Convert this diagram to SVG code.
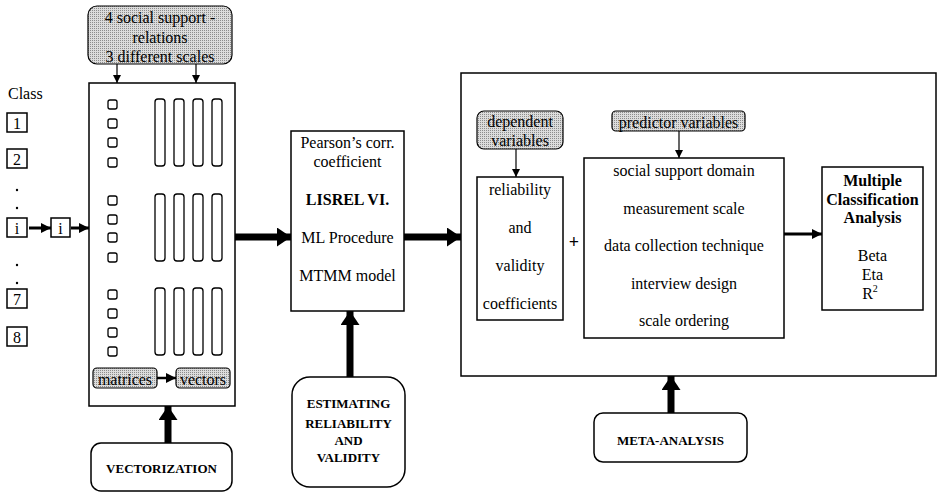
<svg xmlns="http://www.w3.org/2000/svg" width="937" height="493" viewBox="0 0 937 493">
  <defs>
    <!-- halftone-like grey fill for the label boxes -->
    <pattern id="halftone" width="2" height="2" patternUnits="userSpaceOnUse">
      <rect width="2" height="2" fill="#dcdcdc"/>
      <rect width="1" height="1" fill="#8c8c8c"/>
    </pattern>
    <marker id="headThin" markerUnits="userSpaceOnUse" markerWidth="8" markerHeight="8" viewBox="0 0 8 8" refX="8" refY="4" orient="auto">
      <path d="M0,0 L8,4 L0,8 Z" fill="#000"/>
    </marker>
    <marker id="headMed" markerUnits="userSpaceOnUse" markerWidth="10" markerHeight="10" viewBox="0 0 10 10" refX="10" refY="5" orient="auto">
      <path d="M0,0 L10,5 L0,10 Z" fill="#000"/>
    </marker>
    <marker id="headThick" markerUnits="userSpaceOnUse" markerWidth="14" markerHeight="19" viewBox="0 0 14 19" refX="14" refY="9.5" orient="auto">
      <path d="M0,0 L14,9.5 L0,19 Z" fill="#000"/>
    </marker>
  </defs>
  <style>
    text { font-family: "Liberation Serif", "Times New Roman", serif; font-size: 16px; fill: #000; }
    .c { text-anchor: middle; }
    .b { font-weight: bold; }
    .cap { font-size: 13px; font-weight: bold; text-anchor: middle; }
    .box { fill: #fff; stroke: #000; stroke-width: 1.5; }
    .grey { fill: url(#halftone); stroke: #000; stroke-width: 1.2; }
    .cell { fill: #fff; stroke: #000; stroke-width: 1.3; }
    .thin { stroke: #000; stroke-width: 1.2; fill: none; marker-end: url(#headThin); }
    .med { stroke: #000; stroke-width: 3; fill: none; marker-end: url(#headMed); }
    .thick { stroke: #000; stroke-width: 7; fill: none; marker-end: url(#headThick); }
  </style>
  <rect width="937" height="493" fill="#fff"/>

  <!-- class column -->
  <g id="classes">
    <text x="8" y="99">Class</text>
    <rect class="box" x="7" y="113" width="20" height="19"/>
    <text class="c" x="17" y="129">1</text>
    <rect class="box" x="7" y="149" width="20" height="19"/>
    <text class="c" x="17" y="165">2</text>
    <circle cx="17" cy="190" r="1.2"/>
    <circle cx="17" cy="208" r="1.2"/>
    <rect class="box" x="7" y="218" width="20" height="19"/>
    <text class="c" x="17" y="234">i</text>
    <circle cx="17" cy="265" r="1.2"/>
    <circle cx="17" cy="283" r="1.2"/>
    <rect class="box" x="7" y="289" width="20" height="19"/>
    <text class="c" x="17" y="305">7</text>
    <rect class="box" x="7" y="327" width="20" height="19"/>
    <text class="c" x="17" y="343">8</text>
  </g>
  <g id="class-i">
    <rect class="box" x="51" y="218" width="19" height="19"/>
    <text class="c" x="60.5" y="234">i</text>
  </g>

  <!-- source relations label -->
  <g id="relations">
    <rect class="grey" x="88" y="6" width="144" height="58" rx="9"/>
    <text class="c" x="160" y="23">4 social support -</text>
    <text class="c" x="160" y="43">relations</text>
    <text class="c" x="160" y="62">3 different scales</text>
  </g>

  <!-- matrix/vector panel -->
  <g id="vectorization-panel">
    <rect class="box" x="89" y="83" width="146" height="323"/>
    <g>
      <rect class="cell" x="108" y="100" width="9" height="9" rx="2"/>
      <rect class="cell" x="108" y="119" width="9" height="9" rx="2"/>
      <rect class="cell" x="108" y="138" width="9" height="9" rx="2"/>
      <rect class="cell" x="108" y="158" width="9" height="9" rx="2"/>
      <rect class="cell" x="108" y="196" width="9" height="9" rx="2"/>
      <rect class="cell" x="108" y="215" width="9" height="9" rx="2"/>
      <rect class="cell" x="108" y="233" width="9" height="9" rx="2"/>
      <rect class="cell" x="108" y="253" width="9" height="9" rx="2"/>
      <rect class="cell" x="108" y="290" width="9" height="9" rx="2"/>
      <rect class="cell" x="108" y="309" width="9" height="9" rx="2"/>
      <rect class="cell" x="108" y="328" width="9" height="9" rx="2"/>
      <rect class="cell" x="108" y="347" width="9" height="9" rx="2"/>
    </g>
    <g>
      <rect class="cell" x="155" y="99" width="10" height="67" rx="3"/>
      <rect class="cell" x="174" y="99" width="10" height="67" rx="3"/>
      <rect class="cell" x="193" y="99" width="10" height="67" rx="3"/>
      <rect class="cell" x="212" y="99" width="10" height="67" rx="3"/>
      <rect class="cell" x="155" y="194" width="10" height="67" rx="3"/>
      <rect class="cell" x="174" y="194" width="10" height="67" rx="3"/>
      <rect class="cell" x="193" y="194" width="10" height="67" rx="3"/>
      <rect class="cell" x="212" y="194" width="10" height="67" rx="3"/>
      <rect class="cell" x="155" y="288" width="10" height="67" rx="3"/>
      <rect class="cell" x="174" y="288" width="10" height="67" rx="3"/>
      <rect class="cell" x="193" y="288" width="10" height="67" rx="3"/>
      <rect class="cell" x="212" y="288" width="10" height="67" rx="3"/>
    </g>
    <rect class="grey" x="93" y="368" width="64" height="20" rx="4"/>
    <text class="c" x="125" y="385">matrices</text>
    <rect class="grey" x="176" y="368" width="54" height="20" rx="4"/>
    <text class="c" x="203" y="385">vectors</text>
  </g>

  <g id="vectorization">
    <rect class="box" x="91" y="443" width="141" height="48" rx="10"/>
    <text class="cap" x="161.5" y="473">VECTORIZATION</text>
  </g>

  <!-- estimation step -->
  <g id="estimation">
    <rect class="box" x="291" y="131" width="113" height="180"/>
    <text class="c" x="347.5" y="148">Pearson’s corr.</text>
    <text class="c" x="347.5" y="167">coefficient</text>
    <text class="c b" x="347.5" y="205">LISREL VI.</text>
    <text class="c" x="347.5" y="243">ML Procedure</text>
    <text class="c" x="347.5" y="281">MTMM model</text>
  </g>

  <g id="estimating">
    <rect class="box" x="292" y="377" width="113" height="110" rx="18"/>
    <text class="cap" x="348.5" y="408">ESTIMATING</text>
    <text class="cap" x="348.5" y="428">RELIABILITY</text>
    <text class="cap" x="348.5" y="445">AND</text>
    <text class="cap" x="348.5" y="462">VALIDITY</text>
  </g>

  <!-- meta-analysis panel -->
  <g id="meta-panel">
    <rect class="box" x="461" y="73" width="475" height="303"/>
  </g>

  <g id="dependent">
    <rect class="grey" x="477" y="111" width="86" height="38" rx="7"/>
    <text class="c" x="520" y="127">dependent</text>
    <text class="c" x="520" y="146">variables</text>
  </g>

  <g id="coefficients">
    <rect class="box" x="477" y="177" width="86" height="143"/>
    <text class="c" x="520" y="195">reliability</text>
    <text class="c" x="520" y="233">and</text>
    <text class="c" x="520" y="271">validity</text>
    <text class="c" x="520" y="309">coefficients</text>
  </g>

  <text class="c b" x="574" y="248" style="font-size:18px">+</text>

  <g id="predictor">
    <rect class="grey" x="612" y="111" width="133" height="20" rx="4"/>
    <text class="c" x="678.5" y="128">predictor variables</text>
  </g>

  <g id="predictors">
    <rect class="box" x="584" y="158" width="200" height="180"/>
    <text class="c" x="684" y="176">social support domain</text>
    <text class="c" x="684" y="214">measurement scale</text>
    <text class="c" x="684" y="251">data collection technique</text>
    <text class="c" x="684" y="289">interview design</text>
    <text class="c" x="684" y="326">scale ordering</text>
  </g>

  <g id="mca">
    <rect class="box" x="822" y="167" width="101" height="143"/>
    <text class="c b" x="872.5" y="186">Multiple</text>
    <text class="c b" x="872.5" y="205">Classification</text>
    <text class="c b" x="872.5" y="223">Analysis</text>
    <text class="c" x="872.5" y="261">Beta</text>
    <text class="c" x="872.5" y="280">Eta</text>
    <text class="c" x="870" y="299">R<tspan dy="-7" style="font-size:10px">2</tspan></text>
  </g>

  <g id="meta-analysis">
    <rect class="box" x="594" y="413" width="153" height="49" rx="9"/>
    <text class="cap" x="670.5" y="445">META-ANALYSIS</text>
  </g>

  <!-- connectors -->
  <g id="connectors">
    <path class="thin" d="M117,64 V83"/>
    <path class="thin" d="M196,64 V83"/>
    <path class="med" d="M29,228 H51"/>
    <path class="med" d="M71,228 H89"/>
    <path class="med" d="M157,378 H176" style="stroke-width:2.5"/>
    <path class="thick" d="M168,443 V406"/>
    <path class="thick" d="M235,237 H291"/>
    <path class="thick" d="M404,237 H461"/>
    <path class="thick" d="M350,377 V311"/>
    <path class="thick" d="M671,413 V376"/>
    <path class="thin" d="M516,149 V177"/>
    <path class="thin" d="M679,131 V158"/>
    <path class="med" d="M784,234 H822"/>
  </g>
</svg>
